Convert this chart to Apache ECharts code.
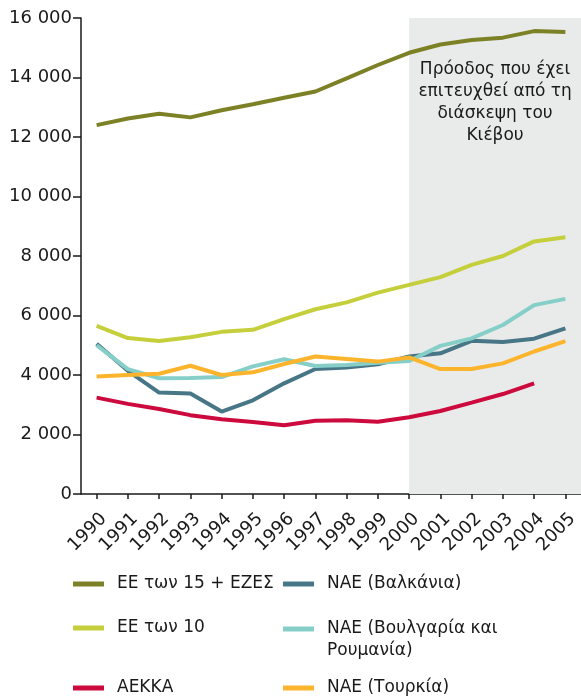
<!DOCTYPE html>
<html>
<head>
<meta charset="utf-8">
<script src="https://cdn.jsdelivr.net/npm/echarts@6/dist/echarts.min.js"></script>
<style>
    html, body { margin: 0; padding: 0; background: #fff; }
    #main { width: 581px; height: 700px; }
</style>
</head>
<body>
<div id="main"></div>
<script>
    var years = [1990, 1991, 1992, 1993, 1994, 1995, 1996, 1997, 1998, 1999, 2000, 2001, 2002, 2003, 2004, 2005];
    var eu15 = [12400, 12620, 12780, 12660, 12900, 13100, 13320, 13530, 13970, 14420, 14830, 15110, 15260, 15340, 15560, 15530];
    var eu10 = [5650, 5240, 5140, 5270, 5450, 5520, 5880, 6210, 6440, 6770, 7030, 7290, 7700, 8000, 8490, 8630];
    var eecca = [3240, 3030, 2860, 2650, 2510, 2420, 2310, 2460, 2480, 2430, 2580, 2790, 3070, 3360, 3720, null];
    var balkans = [5050, 4140, 3410, 3380, 2770, 3150, 3720, 4200, 4250, 4360, 4620, 4730, 5150, 5110, 5220, 5570];
    var bgro = [5000, 4200, 3890, 3900, 3930, 4290, 4530, 4300, 4340, 4410, 4470, 4980, 5230, 5680, 6350, 6560];
    var turkey = [3950, 4000, 4040, 4310, 4000, 4090, 4370, 4620, 4540, 4450, 4590, 4200, 4200, 4390, 4790, 5140];
    var shadeFrom = 2000;
    var noteText = 'Πρόοδος που έχει\nεπιτευχθεί από τη\nδιάσκεψη του\nΚιέβου';

    var names = ['ΕΕ των 15 + ΕΖΕΣ', 'ΕΕ των 10', 'ΑΕΚΚΑ', 'ΝΑΕ (Βαλκάνια)', 'ΝΑΕ (Βουλγαρία και Ρουμανία)', 'ΝΑΕ (Τουρκία)'];
    var values = [eu15, eu10, eecca, balkans, bgro, turkey];
    var colors = ['#7d8126', '#c5cf3b', '#cc0a3d', '#477687', '#86cec8', '#fbb42c'];

    var font = 'DejaVu Sans';
    var ink = '#1a1a1a';

    function pairs(arr) {
        return years.map(function (y, i) { return [y, arr[i]]; });
    }

    var series = names.map(function (n, i) {
        return {
            name: n,
            type: 'line',
            symbol: 'none',
            data: pairs(values[i]),
            color: colors[i],
            lineStyle: { width: 4, color: colors[i] },
            z: 3
        };
    });
    // shaded period
    series[0].markArea = {
        silent: true,
        itemStyle: { color: '#e9ebea' },
        label: {
            show: true,
            position: 'insideTop',
            distance: 41,
            color: ink,
            fontFamily: font,
            fontSize: 17,
            lineHeight: 22,
            align: 'center'
        },
        data: [[{ name: noteText, xAxis: shadeFrom, yAxis: 16000 }, { xAxis: 2005.5, yAxis: 0 }]]
    };

    // legend: two columns, three rows
    var legPos = [
        { left: 73, top: 573 }, { left: 73, top: 617 }, { left: 73, top: 677 },
        { left: 283, top: 573 }, { left: 283, top: 596 }, { left: 283, top: 677 }
    ];
    var legends = names.map(function (n, i) {
        return {
            left: legPos[i].left,
            top: legPos[i].top,
            padding: 0,
            orient: 'horizontal',
            data: [n],
            icon: 'rect',
            itemWidth: 31,
            itemHeight: 5,
            selectedMode: false,
            // the wrapped entry keeps its first line level with the icon
            formatter: function (name) {
                return name.indexOf('και ') > 0 ? '\n' + name.replace('και ', 'και\n') : name;
            },
            textStyle: {
                color: ink,
                fontFamily: font,
                fontSize: 17,
                lineHeight: 22,
                padding: [0, 0, 0, 8]
            }
        };
    });

    var chart = echarts.init(document.getElementById('main'), null, { renderer: 'canvas' });
    chart.setOption({
        animation: false,
        backgroundColor: '#fff',
        grid: { left: 81, right: 0, top: 18, bottom: 206, containLabel: false, outerBoundsMode: 'none' },
        legend: legends,
        xAxis: {
            type: 'value',
            min: 1989.5,
            max: 2005.5,
            axisLine: { show: true, lineStyle: { color: ink, width: 1.5 } },
            axisTick: { show: true, customValues: years, length: 5, lineStyle: { color: ink, width: 1.5 } },
            axisLabel: {
                customValues: years,
                showMinLabel: true,
                showMaxLabel: true,
                hideOverlap: false,
                rotate: 45,
                margin: 15,
                verticalAlign: 'top',
                lineHeight: 20,
                color: ink,
                fontFamily: font,
                fontSize: 18,
                formatter: function (v) { return String(v); }
            },
            splitLine: { show: false }
        },
        yAxis: {
            type: 'value',
            min: 0,
            max: 16000,
            interval: 2000,
            axisLine: { show: true, lineStyle: { color: ink, width: 1.5 } },
            axisTick: { show: true, length: 8, lineStyle: { color: ink, width: 1.5 } },
            axisLabel: {
                margin: 9,
                color: ink,
                fontFamily: font,
                fontSize: 18,
                formatter: function (v) { return String(v).replace(/\B(?=(\d{3})+(?!\d))/g, ' '); }
            },
            splitLine: { show: false }
        },
        series: series
    });
</script>
</body>
</html>
